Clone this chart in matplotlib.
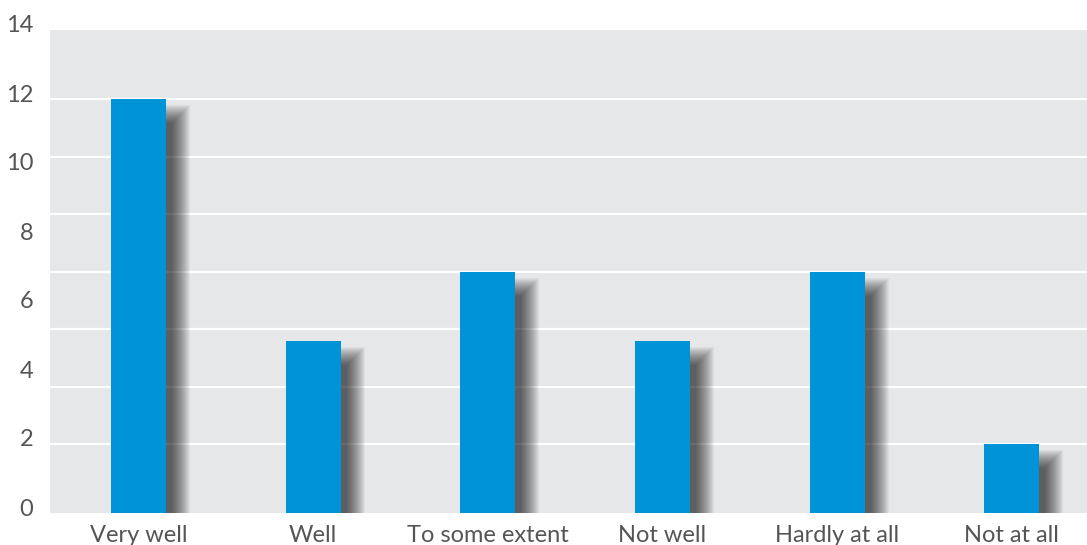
import numpy as np
import matplotlib.pyplot as plt
from matplotlib.transforms import ScaledTranslation

categories = ['Very well', 'Well', 'To some extent', 'Not well', 'Hardly at all', 'Not at all']
values = [12, 5, 7, 5, 7, 2]
y_ticks = [0, 2, 4, 6, 8, 10, 12, 14]

plt.rcParams['font.family'] = ['Lato', 'DejaVu Sans']

fig = plt.figure(figsize=(10.87, 5.45), dpi=100)
ax = fig.add_axes([50 / 1087, 32 / 545, 1037 / 1087, 483 / 545])
ax.set_facecolor('#e6e7e9')

x = np.arange(len(categories))
bw = 0.315
px_x = 1 / 174.6   # data units per pixel
px_y = 1 / 34.5

# white gridlines (the original's lines do not fall on the tick labels)
for g in np.linspace(2, 12, 7):
    ax.axhline(g, color='white', lw=1.6, zorder=1)

# soft drop shadow: offset copy of the bars, blurred by stacking grown layers
for r in range(-9, 10):
    ax.bar(x + 15 * px_x, [v - 15 * px_y + r * px_y + 1 for v in values],
           bottom=-1, width=bw + 2 * r * px_x, color='black', alpha=0.045,
           lw=0, zorder=2)

ax.bar(x, values, width=bw, color='#0193d7', lw=0, zorder=3)

ax.set_xlim(-0.507, 5.43)
ax.set_ylim(0, 14)
ax.set_xticks(x)
ax.set_xticklabels(categories)
ax.set_yticks(y_ticks)
ax.tick_params(axis='both', length=0, labelsize=17, labelcolor='#555555')
ax.tick_params(axis='y', pad=12)
ax.tick_params(axis='x', pad=9)
for lab in ax.get_yticklabels():
    lab.set_transform(lab.get_transform() + ScaledTranslation(0, 6 / 100, fig.dpi_scale_trans))
for sp in ax.spines.values():
    sp.set_visible(False)

fig.savefig('out.png', dpi=100)
